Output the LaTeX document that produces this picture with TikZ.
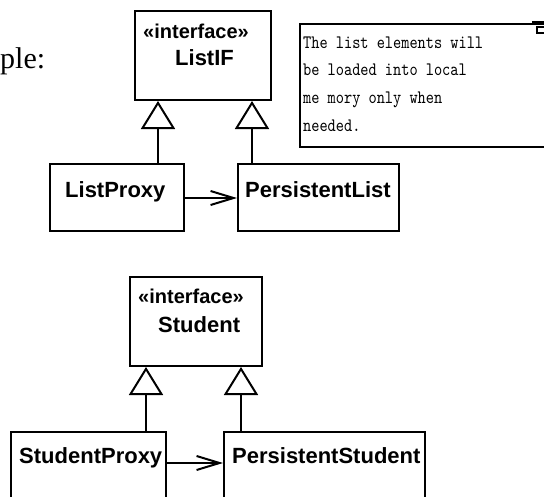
\documentclass[tikz,border=0pt]{standalone}
\usepackage{fontspec}
\setmainfont{Liberation Serif}
\newfontfamily\umlfont{Liberation Sans}
\newfontfamily\notefont[FakeStretch=0.82]{lmmono10-regular.otf}
\usetikzlibrary{arrows.meta}
\begin{document}
\begin{tikzpicture}[x=1pt,y=-1pt,
  classbox/.style={draw,line width=2pt,rectangle,anchor=north west,inner sep=0pt},
  stereo/.style={anchor=base west,inner sep=0pt,font=\umlfont\bfseries\fontsize{20}{24}\selectfont},
  cname/.style={anchor=base west,inner sep=0pt,font=\umlfont\bfseries\fontsize{22}{26}\selectfont},
  noteline/.style={anchor=base west,inner sep=0pt,font=\notefont\fontsize{19}{22}\selectfont},
  inherit/.style={line width=2pt,-{Triangle[open,length=28pt,width=34pt,fill=white]}},
  assoc/.style={line width=2pt,-{Straight Barb[length=23pt,width=14pt]}}]
\useasboundingbox (0,0) rectangle (544,496);
\clip (0,0) rectangle (544,496);

% heading (partly outside the frame)
\node[anchor=base west,inner sep=0pt,font=\fontsize{30}{36}\selectfont] (head) at (0,68) {ple:};

% --- list example ---
\node[classbox,minimum width=136pt,minimum height=89pt] (lif) at (134,10) {};
\node[stereo] (lifS) at (143,38) {«interface»};
\node[cname] (lifN) at (175,65) {ListIF};

\node[classbox,minimum width=134pt,minimum height=67pt] (lp) at (49,163) {};
\node[cname] (lpN) at (65,197) {ListProxy};

\node[classbox,minimum width=161pt,minimum height=67pt] (pl) at (237,163) {};
\node[cname] (plN) at (245,197) {PersistentList};

\draw[inherit] ([xshift=109pt]lp.north west) -- ([xshift=24pt]lif.south west);
\draw[inherit] ([xshift=15pt]pl.north west) -- ([xshift=118pt]lif.south west);
\draw[assoc] ([yshift=-35pt]lp.north east) -- ([yshift=-35pt]pl.north west);

% note with folded corner mark
\node[classbox,minimum width=262pt,minimum height=123pt] (note) at (299,23) {};
\node[noteline] (n1) at (303,48) {The list elements will};
\node[noteline] (n2) at (303,75) {be loaded into local};
\node[noteline] (n3) at (303,103) {me mory only when};
\node[noteline] (n4) at (303,131) {needed.};
\fill (532,21) rectangle (544,25);
\draw[line width=1.5pt] (544,27) -- (537,27) -- (537,33) -- (544,33);

% --- student example ---
\node[classbox,minimum width=132pt,minimum height=89pt] (stu) at (129,276) {};
\node[stereo] (stuS) at (138,303) {«interface»};
\node[cname] (stuN) at (158,332) {Student};

\node[classbox,minimum width=155pt,minimum height=80pt] (sp) at (10,431) {};
\node[cname] (spN) at (19,463) {StudentProxy};

\node[classbox,minimum width=201pt,minimum height=80pt] (ps) at (223,431) {};
\node[cname] (psN) at (232,463) {PersistentStudent};

\draw[inherit] ([xshift=136pt]sp.north west) -- ([xshift=17pt]stu.south west);
\draw[inherit] ([xshift=18pt]ps.north west) -- ([xshift=112pt]stu.south west);
\draw[assoc] ([yshift=-32pt]sp.north east) -- ([yshift=-32pt]ps.north west);
\end{tikzpicture}
\end{document}
